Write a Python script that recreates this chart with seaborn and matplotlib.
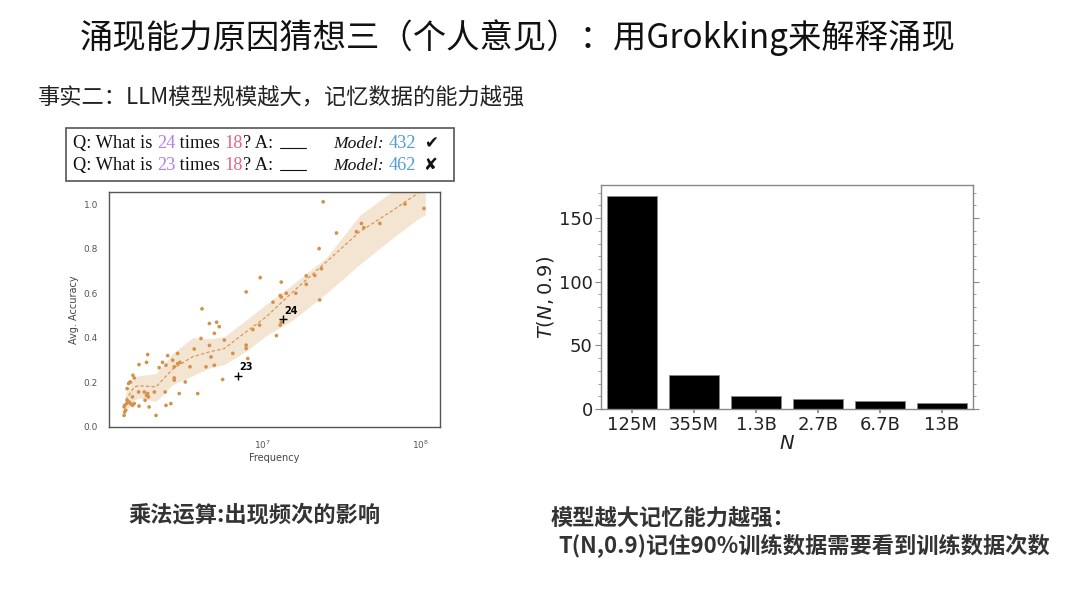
import matplotlib
matplotlib.use("Agg")
import matplotlib.pyplot as plt
import matplotlib.patches as mpatches
import matplotlib.lines as mlines
from matplotlib.ticker import MultipleLocator, FixedLocator
import pandas as pd
import seaborn as sns

# 1. Datos del gráfico de dispersión (multiplicación: frecuencia vs. precisión)
freq = [1.31e6, 1.32e6, 1.31e6, 1.34e6, 1.32e6, 1.36e6, 1.37e6, 1.41e6, 1.44e6, 1.48e6,
        1.37e6, 1.40e6, 1.42e6, 1.44e6, 1.49e6, 1.52e6, 1.48e6, 1.52e6, 1.62e6, 1.63e6,
        1.63e6, 1.76e6, 1.78e6, 1.82e6, 1.85e6, 1.82e6, 1.85e6, 1.87e6, 1.89e6, 2.04e6,
        2.09e6, 2.19e6, 2.30e6, 2.39e6, 2.42e6, 2.42e6, 2.48e6, 2.60e6, 2.67e6, 2.73e6,
        2.73e6, 2.73e6, 2.87e6, 2.87e6, 2.94e6, 2.97e6, 3.21e6, 3.44e6, 3.66e6, 3.85e6,
        4.04e6, 4.10e6, 4.35e6, 4.57e6, 4.57e6, 4.68e6, 4.91e6, 4.91e6, 5.08e6, 5.28e6,
        5.55e6, 5.69e6, 6.44e6, 7.83e6, 7.83e6, 7.83e6, 8.02e6, 8.64e6, 9.53e6, 9.62e6,
        1.16e7, 1.22e7, 1.29e7, 1.31e7, 1.29e7, 1.31e7, 1.31e7, 1.41e7, 1.62e7, 1.89e7,
        1.89e7, 2.14e7, 2.28e7, 2.30e7, 2.36e7, 2.42e7, 2.94e7, 3.94e7, 4.24e7, 4.39e7,
        5.55e7, 8.02e7, 1.06e8]
acc = [0.052, 0.067, 0.090, 0.075, 0.097, 0.105, 0.120, 0.112, 0.105, 0.097,
       0.172, 0.195, 0.200, 0.202, 0.232, 0.220, 0.135, 0.105, 0.157, 0.280,
       0.094, 0.157, 0.120, 0.142, 0.150, 0.290, 0.325, 0.135, 0.090, 0.157,
       0.052, 0.266, 0.290, 0.157, 0.097, 0.277, 0.320, 0.105, 0.300, 0.220,
       0.210, 0.270, 0.284, 0.330, 0.150, 0.290, 0.202, 0.270, 0.350, 0.150,
       0.397, 0.530, 0.270, 0.366, 0.464, 0.314, 0.277, 0.420, 0.470, 0.450,
       0.213, 0.390, 0.330, 0.606, 0.367, 0.352, 0.307, 0.437, 0.457, 0.670,
       0.560, 0.410, 0.590, 0.583, 0.457, 0.470, 0.650, 0.600, 0.600, 0.678,
       0.640, 0.680, 0.800, 0.570, 0.710, 1.010, 0.870, 0.876, 0.913, 0.894,
       0.913, 1.000, 0.980]

# Tendencia y banda de confianza
trend_freq = [1.34e6, 1.52e6, 1.63e6, 2.09e6, 2.67e6, 3.57e6, 4.57e6, 5.69e6,
              7.83e6, 1.05e7, 1.55e7, 2.54e7, 4.14e7, 6.76e7, 1.0e8, 1.08e8]
trend_acc = [0.12, 0.18, 0.185, 0.18, 0.26, 0.315, 0.337, 0.352,
             0.427, 0.494, 0.606, 0.741, 0.876, 0.973, 1.055, 1.08]
band_low = [0.07, 0.12, 0.13, 0.115, 0.19, 0.23, 0.265, 0.28,
            0.34, 0.41, 0.48, 0.60, 0.73, 0.85, 0.94, 0.95]
band_high = [0.15, 0.225, 0.23, 0.24, 0.33, 0.40, 0.395, 0.405,
             0.48, 0.55, 0.64, 0.76, 0.95, 1.06, 1.10, 1.10]

# Puntos destacados (23 x 18 y 24 x 18)
special_freq = [6.92e6, 1.34e7]
special_acc = [0.229, 0.484]
special_labels = ["23", "24"]

# 2. Datos del gráfico de barras
model_sizes = ["125M", "355M", "1.3B", "2.7B", "6.7B", "13B"]
t_values = [167, 27, 10, 8, 6, 5]

# 3. Estilo
sns.set_theme(style="white")
plt.rcParams['font.family'] = ['DejaVu Sans', 'Noto Sans CJK SC']
plt.rcParams['mathtext.fontset'] = 'dejavusans'
CJK = ['Noto Sans CJK SC', 'DejaVu Sans']
SERIF = ['Liberation Serif', 'DejaVu Sans']

W, H = 1080, 608
fig = plt.figure(figsize=(W / 100, H / 100), dpi=100)
fig.patch.set_facecolor("white")


def fx(px):
    return px / W


def fy(py):
    return 1 - py / H


# Títulos de la diapositiva
fig.text(fx(518), fy(38), "涌现能力原因猜想三（个人意见）：用Grokking来解释涌现",
         ha="center", va="center", fontsize=24, fontweight="light",
         color="#111111", family=CJK)
fig.text(fx(38), fy(98), "事实二：LLM模型规模越大，记忆数据的能力越强",
         ha="left", va="center", fontsize=16, fontweight="light",
         color="#222222", family=CJK)

# 4. Recuadro con el ejemplo de preguntas
fig.patches.append(mpatches.Rectangle((fx(66), fy(181)), (454 - 66) / W, (181 - 128) / H,
                                      transform=fig.transFigure, fill=False,
                                      edgecolor="#555555", linewidth=1.2))
renderer = fig.canvas.get_renderer()
FS_BOX = 13.2


def text_width(s, style="normal"):
    t1 = fig.text(0, 0, s + "|", fontsize=FS_BOX, family=SERIF, fontstyle=style)
    t2 = fig.text(0, 0, "|", fontsize=FS_BOX, family=SERIF, fontstyle=style)
    w = t1.get_window_extent(renderer).width - t2.get_window_extent(renderer).width
    t1.remove()
    t2.remove()
    return w


def put_line(x0, base, segments):
    prefix = ""
    for s, col, style in segments:
        x = x0 + text_width(prefix, style) if prefix else x0
        fig.text(fx(x), fy(base), s, color=col, fontstyle=style, fontsize=FS_BOX,
                 family=SERIF, ha="left", va="baseline")
        prefix += s


PURPLE, PINK, BLUE, K = "#b77ee8", "#e8677f", "#4f9fd3", "#111111"
for base, a, ans, mark in [(148, "24", "432", "✔"), (170, "23", "462", "✘")]:
    put_line(73, base, [("Q: What is ", K, "normal"), (a, PURPLE, "normal"),
                        (" times ", K, "normal"), ("18", PINK, "normal"),
                        ("? A:", K, "normal")])
    fig.lines.append(mlines.Line2D([fx(280), fx(306)], [fy(base), fy(base)],
                                   transform=fig.transFigure, color=K, lw=0.8))
    fig.text(fx(333), fy(base), "Model:", fontstyle="italic", fontsize=12.6,
             family=SERIF, color=K, ha="left", va="baseline")
    fig.text(fx(389), fy(base), ans, fontsize=FS_BOX, family=SERIF, color=BLUE,
             ha="left", va="baseline")
    fig.text(fx(424), fy(base), mark, fontsize=12, family=SERIF, color=K,
             ha="left", va="baseline")

# 5. Gráfico de dispersión
ax1 = fig.add_axes([fx(109), fy(427), (440 - 109) / W, (427 - 192) / H])
ax1.set_xscale("log")
ORANGE = "#d4914a"
ax1.fill_between(trend_freq, band_low, band_high, color="#f4e4d2", lw=0, zorder=1)
sns.lineplot(x=trend_freq, y=trend_acc, ax=ax1, color=ORANGE, lw=0.8,
             linestyle=(0, (3, 2)), zorder=2)
df_pts = pd.DataFrame({"Frequency": freq, "Avg. Accuracy": acc})
sns.scatterplot(data=df_pts, x="Frequency", y="Avg. Accuracy", ax=ax1,
                color=ORANGE, s=7, edgecolor="none", zorder=3)
sns.scatterplot(x=special_freq, y=special_acc, ax=ax1, marker="+", color="black",
                s=28, linewidth=1.0, zorder=4)
for f, a, lab in zip(special_freq, special_acc, special_labels):
    ax1.annotate(lab, (f, a), xytext=(1, 4), textcoords="offset points",
                 fontsize=7, fontweight="bold", color="black")
ax1.set_xlim(1.05e6, 1.34e8)
ax1.set_ylim(0, 1.054)
ax1.set_yticks([0.0, 0.2, 0.4, 0.6, 0.8, 1.0])
ax1.set_yticklabels(["0.0", "0.2", "0.4", "0.6", "0.8", "1.0"])
ax1.xaxis.set_major_locator(FixedLocator([1e7, 1e8]))
ax1.xaxis.set_minor_locator(FixedLocator([]))
ax1.tick_params(labelsize=6.5, labelcolor="#555555", pad=2)
ax1.set_xlabel("Frequency", fontsize=7, color="#444444", labelpad=2)
ax1.set_ylabel("Avg. Accuracy", fontsize=7, color="#444444", labelpad=3)
for sp in ax1.spines.values():
    sp.set_color("#555555")
    sp.set_linewidth(1.0)

# 6. Gráfico de barras
ax2 = fig.add_axes([fx(601), fy(409), (973 - 601) / W, (409 - 185) / H])
df_bar = pd.DataFrame({"N": model_sizes, "T": t_values})
sns.barplot(data=df_bar, x="N", y="T", ax=ax2, color="black", saturation=1,
            edgecolor="#888888", linewidth=0.6, width=0.8)
ax2.set_xlim(-0.5, 5.5)
ax2.set_ylim(0, 176)
ax2.set_yticks([0, 50, 100, 150])
ax2.yaxis.set_minor_locator(MultipleLocator(10))
ax2.tick_params(axis="y", which="both", left=True, right=True, direction="out",
                color="#888888")
ax2.tick_params(axis="y", which="major", length=4, width=0.8)
ax2.tick_params(axis="y", which="minor", length=2, width=0.6)
ax2.tick_params(axis="x", bottom=True, length=3, color="#888888")
ax2.tick_params(labelsize=13, labelcolor="#222222", pad=2)
ax2.set_xlabel("$N$", fontsize=14, color="#222222", labelpad=0)
ax2.set_ylabel("$T(N, 0.9)$", fontsize=14, color="#222222", labelpad=2)
for sp in ax2.spines.values():
    sp.set_color("#888888")
    sp.set_linewidth(1.0)

# 7. Pies de figura
fig.text(fx(128), fy(515), "乘法运算:出现频次的影响", ha="left", va="center",
         fontsize=16, fontweight="bold", color="#333333", family=CJK)
fig.text(fx(551), fy(519), "模型越大记忆能力越强：", ha="left", va="center",
         fontsize=16, fontweight="bold", color="#333333", family=CJK)
fig.text(fx(558), fy(546), "T(N,0.9)记住90%训练数据需要看到训练数据次数", ha="left",
         va="center", fontsize=16, fontweight="bold", color="#333333", family=CJK)

fig.savefig("out.png", dpi=100)
